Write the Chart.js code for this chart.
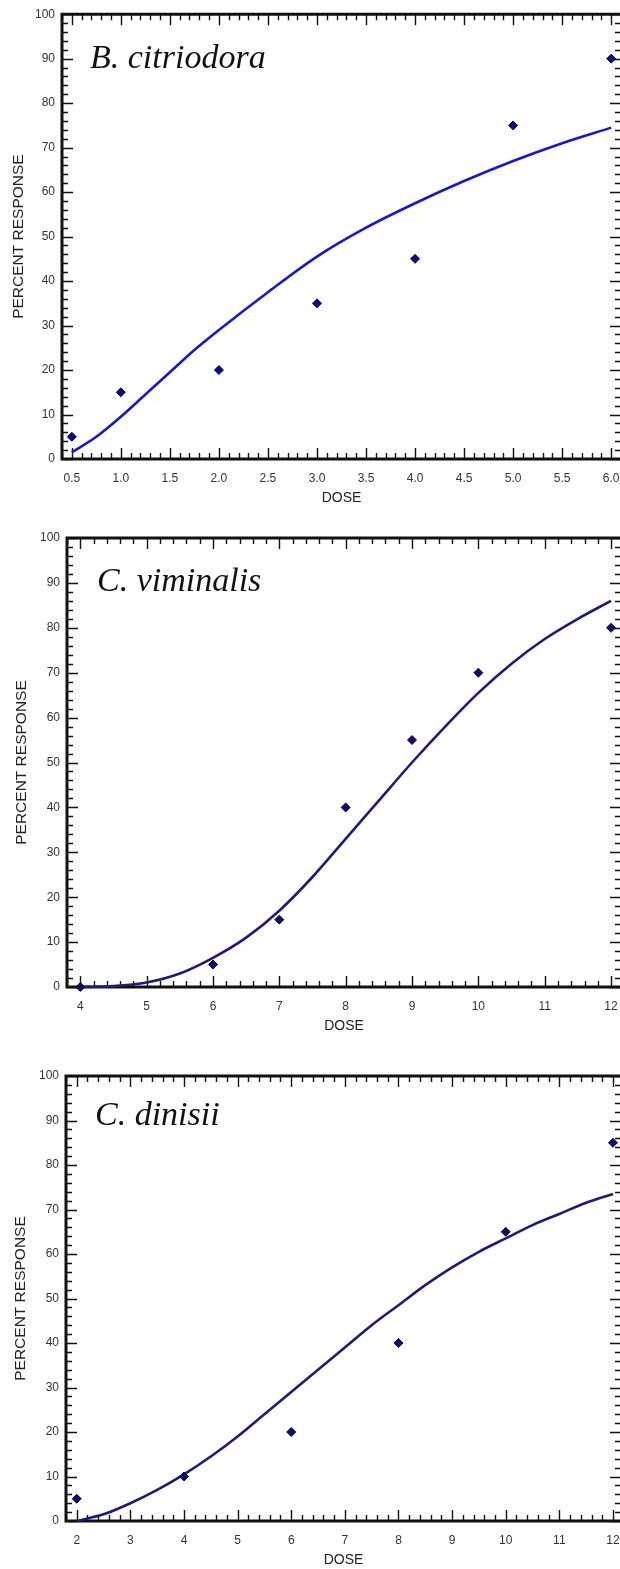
<!DOCTYPE html>
<html>
<head>
<meta charset="utf-8">
<script src="https://cdn.jsdelivr.net/npm/chart.js@4.4.1/dist/chart.umd.min.js"></script>
<style>
html, body { margin: 0; padding: 0; background: #fff; overflow: hidden; width: 620px; height: 1569px; }
canvas { position: absolute; left: 0; }
</style>
</head>
<body>
<canvas id="c1" width="640" height="509" style="top:0px"></canvas>
<canvas id="c2" width="640" height="528" style="top:509px"></canvas>
<canvas id="c3" width="640" height="534" style="top:1037px"></canvas>
<script>
// observed points
const citriodoraDose = [0.5, 1, 2, 3, 4, 5, 6];
const citriodoraResp = [5, 15, 20, 35, 45, 75, 90];
const viminalisDose = [4, 6, 7, 8, 9, 10, 12];
const viminalisResp = [0, 5, 15, 40, 55, 70, 80];
const dinisiiDose = [2, 4, 6, 8, 10, 12];
const dinisiiResp = [5, 10, 20, 40, 65, 85];

// fitted curves
const citriodoraFitDose = [0.5, 0.75, 1, 1.25, 1.5, 1.75, 2, 2.5, 3, 3.5, 4, 4.5, 5, 5.5, 6];
const citriodoraFitResp = [1.5, 5, 9.5, 14.5, 19.5, 24.5, 29, 37.5, 45.5, 52, 57.5, 62.5, 67, 71, 74.5];
const viminalisFitDose = [4, 4.5, 5, 5.5, 6, 6.5, 7, 7.5, 8, 8.5, 9, 9.5, 10, 10.5, 11, 11.5, 12];
const viminalisFitResp = [0, 0.2, 1, 3, 6.5, 11, 17, 24.5, 33, 41.5, 50, 58, 65.5, 72, 77.5, 82, 86];
const dinisiiFitDose = [2, 2.5, 3, 3.5, 4, 4.5, 5, 5.5, 6, 6.5, 7, 7.5, 8, 8.5, 9, 9.5, 10, 10.5, 11, 11.5, 12];
const dinisiiFitResp = [0, 1.5, 4, 7, 10.5, 14.5, 19, 24, 29, 34, 39, 44, 48.5, 53, 57, 60.5, 63.5, 66.5, 69, 71.5, 73.5];

// tick labels
const citriodoraXLabels = ['0.5', '1.0', '1.5', '2.0', '2.5', '3.0', '3.5', '4.0', '4.5', '5.0', '5.5', '6.0'];
const viminalisXLabels = ['4', '5', '6', '7', '8', '9', '10', '11', '12'];
const dinisiiXLabels = ['2', '3', '4', '5', '6', '7', '8', '9', '10', '11', '12'];
const responseLabels = ['0', '10', '20', '30', '40', '50', '60', '70', '80', '90', '100'];

const xTitle = 'DOSE';
const yTitle = 'PERCENT RESPONSE';

function pickLabel(labels, value) {
    const hit = labels.find(l => Math.abs(parseFloat(l) - value) < 1e-6);
    return hit === undefined ? '' : hit;
}

// box with inward ticks on all four sides
const frame = {
    id: 'frame',
    beforeDatasetsDraw(chart) {
        const {ctx, chartArea: a, scales: {x, y}} = chart;
        ctx.save();
        ctx.strokeStyle = '#111';
        ctx.lineWidth = 1.4;
        ctx.beginPath();
        x.ticks.forEach(t => {
            const p = Math.round(x.getPixelForValue(t.value)) + 0.5;
            const len = t.label ? 11 : 6;
            ctx.moveTo(p, a.bottom); ctx.lineTo(p, a.bottom - len);
            ctx.moveTo(p, a.top); ctx.lineTo(p, a.top + len);
        });
        y.ticks.forEach(t => {
            const p = Math.round(y.getPixelForValue(t.value)) + 0.5;
            const len = t.label ? 11 : 6;
            ctx.moveTo(a.left, p); ctx.lineTo(a.left + len, p);
            ctx.moveTo(a.right, p); ctx.lineTo(a.right - len, p);
        });
        ctx.stroke();
        ctx.lineWidth = 3;
        ctx.beginPath();
        ctx.moveTo(a.left, a.top - 1.5); ctx.lineTo(a.left, a.bottom + 1.5);
        ctx.moveTo(a.left, a.bottom); ctx.lineTo(a.right, a.bottom);
        ctx.moveTo(a.left, a.top); ctx.lineTo(a.right, a.top);
        ctx.stroke();
        ctx.lineWidth = 2;
        ctx.beginPath();
        ctx.moveTo(a.right, a.top); ctx.lineTo(a.right, a.bottom);
        ctx.stroke();
        ctx.restore();
    }
};

const species = {
    id: 'species',
    afterDraw(chart, args, o) {
        const {ctx, chartArea: a} = chart;
        ctx.save();
        ctx.font = 'italic 34px "Liberation Serif"';
        ctx.fillStyle = '#111';
        ctx.textBaseline = 'alphabetic';
        ctx.fillText(o.text, a.left + o.dx, a.top + o.dy);
        ctx.restore();
    }
};

function makeChart(id, p) {
    const points = p.dose.map((d, i) => ({x: d, y: p.resp[i]}));
    const fit = p.fitDose.map((d, i) => ({x: d, y: p.fitResp[i]}));
    return new Chart(document.getElementById(id), {
        type: 'scatter',
        data: { datasets: [
            { data: points, pointStyle: 'rectRot', pointRadius: 4.5, backgroundColor: p.markColor,
              borderColor: '#06064a', borderWidth: 1, clip: false },
            { data: fit, showLine: true, pointRadius: 0, borderColor: p.lineColor, borderWidth: 2.6,
              tension: 0.4, cubicInterpolationMode: 'monotone', clip: false }
        ]},
        options: {
            responsive: false, animation: false,
            layout: { padding: { top: p.padTop, right: 19, left: 0, bottom: 0 } },
            plugins: { legend: { display: false }, tooltip: { enabled: false },
                species: { text: p.name, dx: p.nameDx, dy: p.nameDy } },
            scales: {
                x: { type: 'linear', min: p.xMin, max: p.xMax,
                     grid: { display: false, drawTicks: false }, border: { display: false },
                     afterFit: s => { s.height = 50; },
                     ticks: { stepSize: p.xStep, includeBounds: false, autoSkip: false, maxRotation: 0,
                              padding: 12, color: '#333', font: { family: 'Liberation Sans', size: 12 },
                              callback: v => pickLabel(p.xLabels, v) },
                     title: { display: true, text: xTitle, color: '#222',
                              font: { family: 'Liberation Sans', size: 14 }, padding: { top: 0, bottom: 2 } } },
                y: { type: 'linear', min: 0, max: 100,
                     grid: { display: false, drawTicks: false }, border: { display: false },
                     afterFit: s => { s.width = p.left; },
                     ticks: { stepSize: 2, includeBounds: false, autoSkip: false, padding: 7,
                              color: '#333', font: { family: 'Liberation Sans', size: 12 },
                              callback: v => pickLabel(responseLabels, v) },
                     title: { display: true, text: yTitle, color: '#222',
                              font: { family: 'Liberation Sans', size: 15.5 }, padding: { top: p.yTitlePad, bottom: 0 } } }
            }
        },
        plugins: [frame, species]
    });
}

makeChart('c1', { dose: citriodoraDose, resp: citriodoraResp, fitDose: citriodoraFitDose, fitResp: citriodoraFitResp,
    xLabels: citriodoraXLabels, xMin: 0.4, xMax: 6.1, xStep: 0.1, left: 62, padTop: 13, yTitlePad: 9,
    name: 'B. citriodora', nameDx: 28, nameDy: 54, lineColor: '#1818c8', markColor: '#0b0b82' });

makeChart('c2', { dose: viminalisDose, resp: viminalisResp, fitDose: viminalisFitDose, fitResp: viminalisFitResp,
    xLabels: viminalisXLabels, xMin: 3.8, xMax: 12.15, xStep: 0.2, left: 67, padTop: 29, yTitlePad: 12,
    name: 'C. viminalis', nameDx: 30, nameDy: 53, lineColor: '#1c1c78', markColor: '#0e0e6a' });

makeChart('c3', { dose: dinisiiDose, resp: dinisiiResp, fitDose: dinisiiFitDose, fitResp: dinisiiFitResp,
    xLabels: dinisiiXLabels, xMin: 1.8, xMax: 12.15, xStep: 0.2, left: 66, padTop: 39, yTitlePad: 11,
    name: 'C. dinisii', nameDx: 29, nameDy: 49, lineColor: '#1c1c78', markColor: '#0e0e6a' });
</script>
</body>
</html>
